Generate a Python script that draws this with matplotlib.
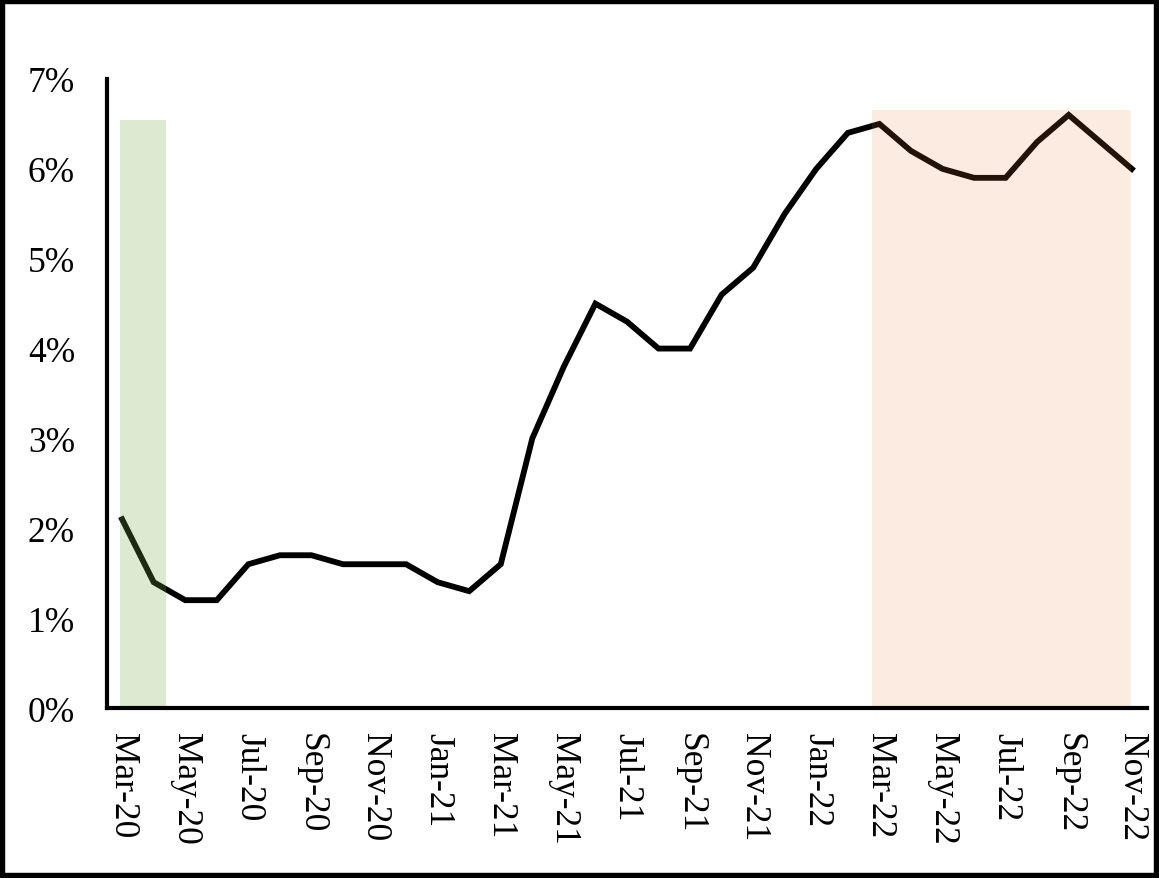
import numpy as np
import pandas as pd
import matplotlib
matplotlib.use("Agg")
import matplotlib.pyplot as plt
from matplotlib.patches import Rectangle

plt.rcParams['font.family'] = ['Liberation Serif', 'DejaVu Serif']

months = pd.date_range("2020-03-01", "2022-11-01", freq="MS")
month_labels = [d.strftime("%b-%y") for d in months]

rate = [2.1, 1.4, 1.2, 1.2, 1.6, 1.7, 1.7, 1.6, 1.6, 1.6, 1.4, 1.3,
        1.6, 3.0, 3.8, 4.5, 4.3, 4.0, 4.0, 4.6, 4.9, 5.5, 6.0, 6.4,
        6.5, 6.2, 6.0, 5.9, 5.9, 6.3, 6.6, 6.3, 6.0]

# shaded periods: (start index, end index, height in %)
green_span = (-0.06, 1.39, 6.54)
orange_span = (23.76, 31.97, 6.66)

x = np.arange(len(rate))

fig = plt.figure(figsize=(11.59, 8.79), dpi=100)
ax = fig.add_axes([0.0923, 0.1934, 0.8973, 0.7156])

ax.plot(x, rate, color='black', lw=4.2, zorder=2, solid_joinstyle='miter')

ax.fill_between([green_span[0], green_span[1]], 0, green_span[2],
                color=(112/255, 173/255, 71/255), alpha=0.25, lw=0, zorder=3)
ax.fill_between([orange_span[0], orange_span[1]], 0, orange_span[2],
                color=(237/255, 125/255, 49/255), alpha=0.15, lw=0, zorder=3)

ax.set_xlim(-0.48, 32.48)
ax.set_ylim(0, 7)
ax.set_yticks(range(0, 8))
ax.set_yticklabels([f"{v}%" for v in range(0, 8)])
ax.set_xticks(x[::2])
ax.set_xticklabels(month_labels[::2], rotation=-90)

ax.tick_params(axis='both', length=0, labelsize=25.5)
ax.tick_params(axis='y', pad=23)
ax.tick_params(axis='x', pad=17)

for s in ['top', 'right']:
    ax.spines[s].set_visible(False)
for s in ['left', 'bottom']:
    ax.spines[s].set_linewidth(3.0)
    ax.spines[s].set_zorder(4)

fig.patches.append(Rectangle((0, 0), 1, 1, transform=fig.transFigure,
                             fill=False, edgecolor='black', lw=7.5))

fig.savefig("out.png", dpi=100)
